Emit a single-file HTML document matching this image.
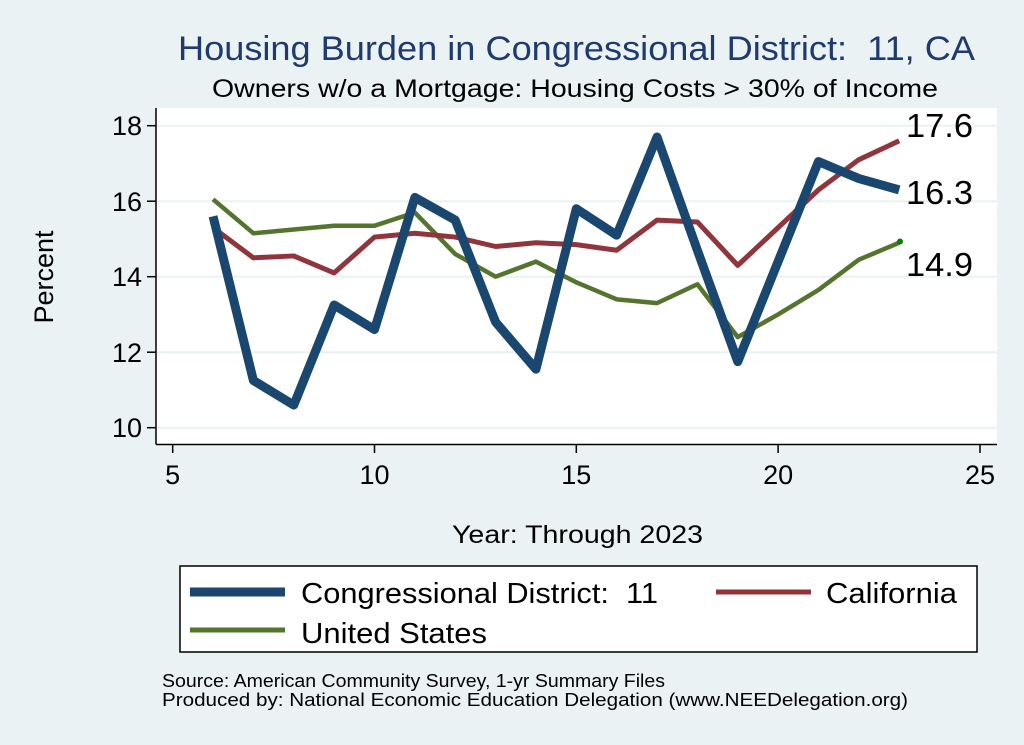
<!DOCTYPE html>
<html><head><meta charset="utf-8"><style>
html,body{margin:0;padding:0;background:#eaf2f3;}
svg{display:block;font-family:"Liberation Sans",sans-serif;}
text{white-space:pre;}
</style></head><body>
<svg width="1024" height="745" viewBox="0 0 1024 745">
<rect width="1024" height="745" fill="#eaf2f3"/>
<text x="178" y="60" font-size="34" fill="#1e3a6e" textLength="797" lengthAdjust="spacingAndGlyphs">Housing Burden in Congressional District:  11, CA</text>
<text x="212" y="97" font-size="25" fill="#000" textLength="726" lengthAdjust="spacingAndGlyphs">Owners w/o a Mortgage: Housing Costs &gt; 30% of Income</text>
<rect x="156" y="108" width="841" height="336" fill="#fff"/>
<g stroke="#eaf2f3" stroke-width="2">
<line x1="157" x2="997" y1="125.7" y2="125.7"/><line x1="157" x2="997" y1="201.2" y2="201.2"/>
<line x1="157" x2="997" y1="276.7" y2="276.7"/><line x1="157" x2="997" y1="352.2" y2="352.2"/>
<line x1="157" x2="997" y1="427.7" y2="427.7"/>
</g>
<g stroke="#000" stroke-width="1.5">
<line x1="156" y1="108" x2="156" y2="444.5"/><line x1="156" y1="444.5" x2="997" y2="444.5"/>
<line x1="147" x2="156" y1="125.7" y2="125.7"/><line x1="147" x2="156" y1="201.2" y2="201.2"/>
<line x1="147" x2="156" y1="276.7" y2="276.7"/><line x1="147" x2="156" y1="352.2" y2="352.2"/>
<line x1="147" x2="156" y1="427.7" y2="427.7"/>
<line x1="172.7" x2="172.7" y1="444" y2="453"/><line x1="374.5" x2="374.5" y1="444" y2="453"/>
<line x1="576.3" x2="576.3" y1="444" y2="453"/><line x1="778.1" x2="778.1" y1="444" y2="453"/>
<line x1="980" x2="980" y1="444" y2="453"/>
</g>
<g font-size="27" text-anchor="end" fill="#000">
<text x="142" y="135">18</text><text x="142" y="211">16</text><text x="142" y="286">14</text><text x="142" y="362">12</text><text x="142" y="437">10</text>
</g>
<g font-size="27" text-anchor="middle" fill="#000">
<text x="172.7" y="484">5</text><text x="374.5" y="484">10</text><text x="576.3" y="484">15</text><text x="778.1" y="484">20</text><text x="980" y="484">25</text>
</g>
<text transform="translate(53 277) rotate(-90)" text-anchor="middle" font-size="27">Percent</text>
<text x="452" y="543" font-size="25" textLength="251" lengthAdjust="spacingAndGlyphs">Year: Through 2023</text>
<g transform="matrix(40.36 0 0 -37.75 -29.1 805.2)" fill="none" stroke-linejoin="round">
<polyline vector-effect="non-scaling-stroke" stroke="#55752f" stroke-width="4.5" points="6,16.05 7,15.15 8,15.25 9,15.35 10,15.35 11,15.7 12,14.6 13,14.0 14,14.4 15,13.85 16,13.4 17,13.3 18,13.8 19,12.4 20,13.0 21,13.65 22,14.45 23,14.9"/>
<polyline vector-effect="non-scaling-stroke" stroke="#90353b" stroke-width="5" points="6,15.3 7,14.5 8,14.55 9,14.1 10,15.05 11,15.15 12,15.05 13,14.8 14,14.9 15,14.85 16,14.7 17,15.5 18,15.45 19,14.3 20,15.3 21,16.3 22,17.1 23,17.6"/>
<polyline vector-effect="non-scaling-stroke" stroke="#1a476f" stroke-width="9" points="6,15.6 7,11.25 8,10.6 9,13.25 10,12.6 11,16.1 12,15.5 13,12.8 14,11.55 15,15.8 16,15.1 17,17.7 18,14.7 19,11.75 20,14.4 21,17.05 22,16.6 23,16.3"/>
</g>
<circle cx="900" cy="241.5" r="3" fill="#008000"/>
<g font-size="33" fill="#000">
<text x="906" y="137" textLength="67" lengthAdjust="spacingAndGlyphs">17.6</text>
<text x="906" y="204" textLength="67" lengthAdjust="spacingAndGlyphs">16.3</text>
<text x="906" y="276" textLength="67" lengthAdjust="spacingAndGlyphs">14.9</text>
</g>
<rect x="180" y="566" width="797" height="86" fill="#fff" stroke="#000" stroke-width="1.5"/>
<line x1="190" x2="285" y1="592" y2="592" stroke="#1a476f" stroke-width="9"/>
<line x1="716" x2="811" y1="592" y2="592" stroke="#90353b" stroke-width="5"/>
<line x1="190" x2="285" y1="630" y2="630" stroke="#55752f" stroke-width="5"/>
<g font-size="29" fill="#000">
<text x="301" y="603" textLength="357" lengthAdjust="spacingAndGlyphs">Congressional District:  11</text>
<text x="826" y="603" textLength="131" lengthAdjust="spacingAndGlyphs">California</text>
<text x="301" y="643" textLength="186" lengthAdjust="spacingAndGlyphs">United States</text>
</g>
<g font-size="18" fill="#000">
<text x="162" y="687" textLength="503" lengthAdjust="spacingAndGlyphs">Source: American Community Survey, 1-yr Summary Files</text>
<text x="162" y="706" textLength="746" lengthAdjust="spacingAndGlyphs">Produced by: National Economic Education Delegation (www.NEEDelegation.org)</text>
</g>
</svg>
</body></html>
